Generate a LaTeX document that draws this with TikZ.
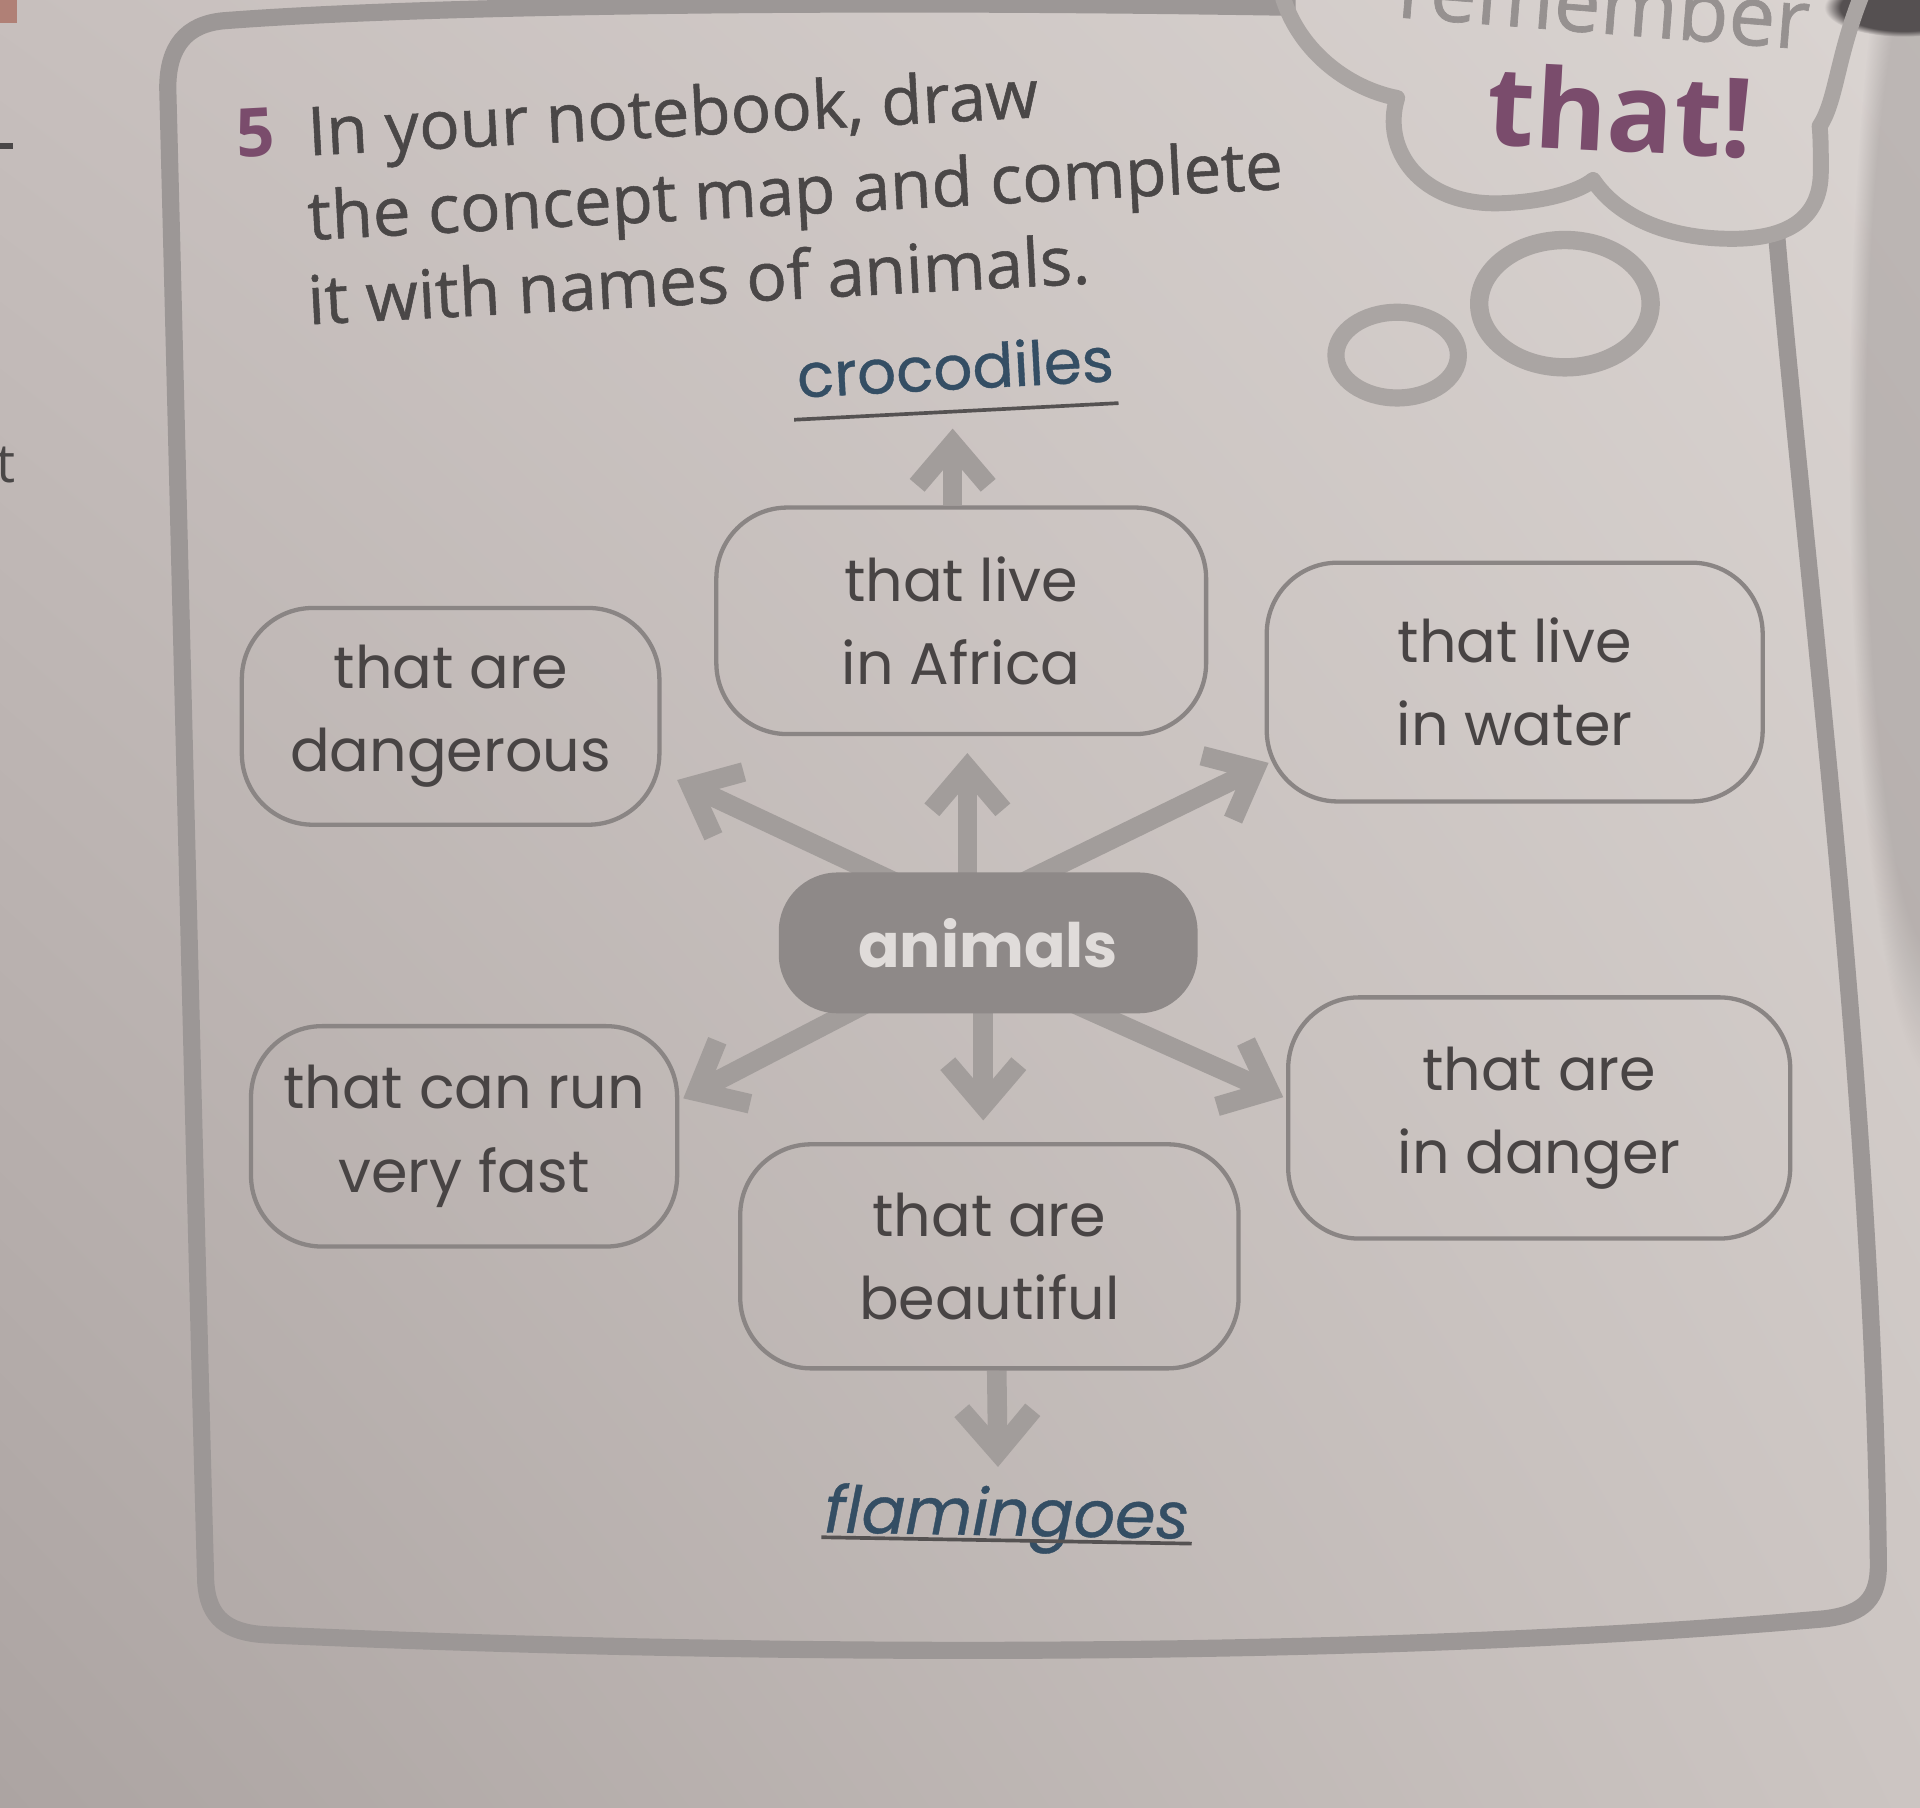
\documentclass[tikz,border=0pt]{standalone}
\usepackage{fontspec}
\setmainfont{Open Sans}
\newfontfamily\titlefont{Open Sans}[FakeBold=0.8]
\newfontfamily\boxfont{Poppins}
\newfontfamily\namefont{Poppins}[FakeBold=0.6]
\usetikzlibrary{arrows.meta,calc,fadings,shadings}
\pgfdeclarelayer{back}
\pgfdeclarelayer{mid}
\pgfsetlayers{back,mid,main}
\definecolor{bgUL}{RGB}{199,191,189}
\definecolor{bgUR}{RGB}{218,212,209}
\definecolor{bgLL}{RGB}{172,164,162}
\definecolor{bgLR}{RGB}{204,197,194}
\definecolor{framecol}{RGB}{156,151,150}
\definecolor{cloudcol}{RGB}{170,165,163}
\definecolor{boxline}{RGB}{138,133,132}
\definecolor{boxtext}{RGB}{72,68,68}
\definecolor{arrowcol}{RGB}{162,157,155}
\definecolor{animfill}{RGB}{142,137,136}
\definecolor{animtext}{RGB}{224,220,218}
\definecolor{titlecol}{RGB}{74,71,71}
\definecolor{purp}{RGB}{122,76,108}
\definecolor{namecol}{RGB}{52,78,100}
\definecolor{ulcol}{RGB}{85,82,82}
\definecolor{shadowcol}{RGB}{85,80,81}
\definecolor{remcol}{RGB}{150,145,144}
\definecolor{pinkmark}{RGB}{176,128,118}
\begin{document}
\begin{tikzpicture}[x=1pt,y=-1pt,
  cbox/.style={draw=boxline, line width=3.5pt, rounded corners=58pt, align=center,
    inner sep=0pt, text=boxtext, font=\boxfont\fontsize{48}{68}\selectfont},
  bigarrow/.style={draw=arrowcol, line width=16pt, -{Straight Barb[length=34pt,width=58pt]}},
  titlest/.style={anchor=base west, inner sep=0pt, text=titlecol, rotate=3,
    font=\titlefont\fontsize{55}{60}\selectfont},
  namest/.style={inner sep=0pt, text=namecol, anchor=base},
  uline/.style={draw=ulcol, line width=3pt},
  ring/.style={draw=cloudcol, line width=14pt},
  framest/.style={draw=framecol, line width=14pt, line join=round}
]
\useasboundingbox (0,0) rectangle (1568,1476);
\begin{pgfonlayer}{back}
  \shade[upper left=bgUL, upper right=bgUR, lower left=bgLL, lower right=bgLR]
    (0,0) rectangle (1568,1476);
  \fill[shadowcol, opacity=0.22, path fading=circle with fuzzy edge 20 percent]
    (1580,360) ellipse [x radius=70, y radius=520];
  \fill[shadowcol, path fading=circle with fuzzy edge 20 percent]
    (1555,6) ellipse [x radius=65, y radius=24];
  \fill[pinkmark] (0,0) rectangle (14,19);
  \fill[titlecol] (0,117) rectangle (11,122);
\end{pgfonlayer}

% page fragment
\node[anchor=base west, inner sep=0pt, text=titlecol, font=\fontsize{44}{44}\selectfont] (frag) at (-3,394) {t};

% frame and cloud
\draw[framest] (1058,6) .. controls (700,0) and (350,4) .. (182,17)
  .. controls (152,20) and (137,38) .. (137,72)
  .. controls (148,500) and (160,1000) .. (168,1292)
  .. controls (170,1322) and (186,1333) .. (216,1335)
  .. controls (600,1352) and (1100,1356) .. (1490,1322)
  .. controls (1524,1318) and (1534,1304) .. (1534,1278)
  .. controls (1530,900) and (1478,500) .. (1451,193);
\draw[draw=cloudcol, line width=13pt, line join=round]
  (1046,-8) .. controls (1058,40) and (1100,72) .. (1141,80)
  .. controls (1128,122) and (1160,168) .. (1225,166)
  .. controls (1262,165) and (1290,156) .. (1301,147)
  .. controls (1322,178) and (1362,194) .. (1410,195)
  .. controls (1455,196) and (1487,182) .. (1487,140)
  .. controls (1487,125) and (1487,112) .. (1486,103)
  .. controls (1500,82) and (1500,45) .. (1522,-8);
\draw[ring] (1141,290) ellipse [x radius=50, y radius=35];
\draw[ring, line width=15pt] (1278,248) ellipse [x radius=70, y radius=52];
\node[anchor=base west, inner sep=0pt, text=remcol, rotate=-4.5,
  font=\titlefont\fontsize{68}{68}\selectfont] (rem) at (1140,14) {remember};
\node[anchor=base west, inner sep=0pt, text=purp, rotate=-3,
  font=\bfseries\fontsize{90}{90}\selectfont] (that) at (1213,118) {that!};

% title
\node[titlest, font=\bfseries\fontsize{55}{60}\selectfont, text=purp] (num) at (194,129) {5};
\node[titlest] (t1) at (252,127) {In your notebook, draw};
\node[titlest] (t2) at (252,196) {the concept map and complete};
\node[titlest] (t3) at (252,265) {it with names of animals.};

% concept boxes
\node[cbox, minimum width=400pt, minimum height=185pt] (africa) at (785,507) {that live\\in Africa};
\node[cbox, minimum width=341pt, minimum height=177pt] (danger) at (368,585) {that are\\dangerous};
\node[cbox, minimum width=405pt, minimum height=195pt] (water) at (1237,557) {that live\\in water};
\node[cbox, minimum width=348pt, minimum height=180pt] (run) at (379,928) {that can run\\very fast};
\node[cbox, minimum width=407pt, minimum height=183pt] (beaut) at (808,1026) {that are\\beautiful};
\node[cbox, minimum width=410pt, minimum height=197pt] (indanger) at (1257,913) {that are\\in danger};
\node[fill=animfill, rounded corners=48pt, minimum width=342pt, minimum height=115pt,
  inner sep=0pt, text=animtext, font=\boxfont\bfseries\fontsize{50}{60}\selectfont]
  (animals) at (807,770) {animals};

% example names
\node[namest, rotate=3, font=\namefont\fontsize{50}{54}\selectfont] (croc) at (781,318) {crocodiles};
\node[namest, rotate=-1, font=\namefont\itshape\fontsize{53}{56}\selectfont] (flam) at (822,1254) {flamingoes};
\draw[uline] ($(croc.base west)+(-3,18)$) -- ($(croc.base east)+(3,18)$);
\draw[uline] ($(flam.base west)+(-2,4)$) -- ($(flam.base east)+(2,4)$);

% arrow tips
\coordinate (tipcroc) at (778,350);
\coordinate (tipup) at (790,615);
\coordinate (tipul) at (553,637);
\coordinate (tipur) at (1036,623);
\coordinate (tipdl) at (558,897);
\coordinate (tipdown) at (803,915);
\coordinate (tipdr) at (1048,896);
\coordinate (tipflam) at (815,1198);

\begin{pgfonlayer}{mid}
  \draw[bigarrow] ($(africa.north)+(-7,0)$) -- (tipcroc);
  \draw[bigarrow] ($(animals.north)+(-17,10)$) -- (tipup);
  \draw[bigarrow] ($(animals.north)+(-68,12)$) -- (tipul);
  \draw[bigarrow] ($(animals.north)+(25,10)$) -- (tipur);
  \draw[bigarrow] ($(animals.south)+(-100,-8)$) -- (tipdl);
  \draw[bigarrow] ($(animals.south)+(-4,-10)$) -- (tipdown);
  \draw[bigarrow] ($(animals.south)+(66,-10)$) -- (tipdr);
  \draw[bigarrow] ($(beaut.south)+(6,0)$) -- (tipflam);
\end{pgfonlayer}
\end{tikzpicture}
\end{document}
